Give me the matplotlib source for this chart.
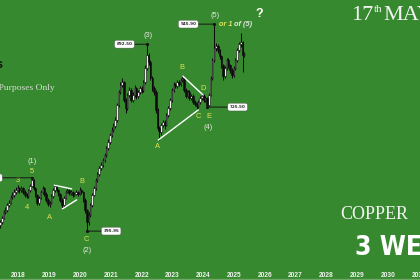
import numpy as np
import pandas as pd
import matplotlib
matplotlib.use("Agg")
import matplotlib.pyplot as plt
from matplotlib.lines import Line2D
from matplotlib import font_manager

# ---------------- data (MCX copper, 3-week candles) ----------------
first_open = 412
closes = [420, 431, 447, 452, 465, 471, 487, 492, 500, 505,
          510, 505, 510, 500, 492, 489, 505, 516, 532, 510,
          492, 471, 484, 500, 510, 495, 479, 468, 471, 489,
          505, 516, 505, 495, 479, 465, 484, 500, 505, 497,
          500, 492, 495, 500, 495, 505, 500, 479, 452, 420,
          439, 465, 492, 510, 532, 548, 564, 572, 585, 598,
          617, 633, 651, 665, 675, 691, 731, 766, 784, 792,
          744, 723, 758, 771, 744, 758, 776, 755, 766, 776,
          771, 792, 829, 864, 845, 803, 776, 766, 718, 670,
          659, 678, 686, 678, 704, 723, 744, 771, 784, 781,
          792, 787, 797, 803, 771, 755, 766, 750, 755, 739,
          734, 728, 739, 750, 755, 744, 750, 731, 758, 803,
          851, 882, 888, 877, 861, 837, 808, 829, 851, 837,
          824, 811, 829, 851, 877, 893, 898, 864, 866]
highs = [426, 436, 452, 460, 470, 478, 493, 499, 507, 512,
         518, 514, 516, 513, 504, 497, 509, 522, 537.6, 534,
         513, 495, 489, 505, 517, 513, 499, 484, 477, 494,
         510, 522, 519, 509, 498, 483, 489, 505, 511, 509,
         506, 503, 500, 505, 503, 513, 509, 503, 483, 456,
         446, 470, 497, 515, 537, 554, 570, 579, 591, 604,
         623, 640, 657, 672, 683, 698, 737, 772, 792, 803,
         796, 750, 764, 779, 775, 765, 783, 780, 772, 782,
         781, 798, 836, 892.5, 870, 850, 808, 782, 770, 722,
         675, 684, 692, 690, 710, 729, 750, 777, 791, 789,
         798, 797, 803, 811, 806, 775, 771, 770, 760, 759,
         744, 738, 744, 755, 761, 759, 756, 753, 763, 808,
         857, 945.9, 895, 892, 880, 864, 841, 834, 857, 855,
         841, 828, 834, 856, 882, 899, 922, 902, 871]
lows = [405, 416, 428, 441, 448, 460, 468, 481, 487, 494,
        500, 498, 499, 494, 486, 483, 485, 501, 512, 505,
        486, 464, 466, 480, 495, 490, 474, 462, 459, 467,
        485, 500, 499, 490, 474, 456, 461, 480, 496, 492,
        493, 487, 488, 491, 490, 492, 494, 472, 444, 395.95,
        412, 434, 461, 488, 505, 527, 542, 557, 566, 580,
        593, 611, 628, 645, 659, 670, 686, 726, 760, 778,
        738, 710, 719, 752, 738, 739, 752, 748, 750, 760,
        764, 766, 787, 824, 838, 797, 769, 758, 711, 662,
        638, 652, 672, 667, 674, 699, 718, 740, 766, 775,
        776, 781, 782, 792, 765, 749, 750, 744, 745, 734,
        728, 721, 724, 735, 745, 739, 740, 725.5, 728, 754,
        798, 846, 874, 870, 854, 830, 798, 803, 824, 830,
        815, 803, 806, 825, 846, 872, 886, 819, 859]

year_ticks = list(range(2018, 2032))
year_labels = [str(y) for y in year_ticks]

# Elliott wave labels: text, candle index, anchor ('h'/'l'), dx px, dy px, kind
wave_labels = [("3", 10, "h", 0.3, 4.5, "y"), ("5", 18, "h", 0, 5.8, "y"),
               ("(1)", 18, "h", 0, 16.5, "w"), ("4", 15, "l", 0, -8.7, "y"),
               ("A", 28, "l", -0.5, -9.8, "y"), ("B", 45, "h", 2, 5.2, "y"),
               ("C", 49, "l", 0, -8.5, "y"), ("(2)", 49, "l", 0, -19.3, "w"),
               ("(3)", 83, "h", 1.4, 8.6, "w"), ("A", 90, "l", -2, -6.7, "y"),
               ("B", 103, "h", -0.5, 7, "y"), ("C", 111, "l", 1.3, -8.2, "y"),
               ("D", 114, "h", 1.3, 5.7, "y"), ("E", 117, "l", 1.3, -9, "y"),
               ("(4)", 117, "l", 1.3, -20, "w"), ("(5)", 121, "h", 0.9, 8.4, "w")]

# price boxes: candle index, anchor, side, distance px
price_boxes = [(18, "h", "left", 30), (83, "h", "left", 13),
               (121, "h", "left", 16.5), (117, "l", "right", 21),
               (49, "l", "right", 15)]

# trend lines: (candle index, price) pairs
trend_lines = [((30.7, 518), (40.5, 508)), ((35.2, 455), (43.3, 479)),
               ((89.4, 638), (112.0, 718)), ((103.2, 808), (114.6, 758))]

# ---------------- font for the condensed title ----------------
narrow_family = None
narrow_stretch = "normal"
for f in font_manager.fontManager.ttflist:
    nm = f.name.lower()
    if "narrow" in nm or "condensed" in nm:
        narrow_family = f.name
        break
    if f.stretch in ("condensed", "semi-condensed", "extra-condensed") and narrow_family is None:
        narrow_family = f.name
        narrow_stretch = f.stretch
        break
if narrow_family is None:
    narrow_family = "DejaVu Sans"

# ---------------- figure ----------------
BG = "#37892f"
YEL = "#dfe25a"
WHT = "#e4e8e2"

fig = plt.figure(figsize=(4.2, 2.8), dpi=100, facecolor=BG)
ax = fig.add_axes([0, 11 / 280, 1, 269 / 280], facecolor=BG)

n = len(closes)
dates = pd.date_range("2017-05-27", periods=n, freq="21D")
xs = np.asarray(dates.year + (dates.dayofyear - 1) / 365.25, dtype=float)
closes = np.array(closes, float)
opens = np.concatenate([[first_open], closes[:-1]])
highs = np.array(highs, float)
lows = np.array(lows, float)

up = closes >= opens
ax.vlines(xs, lows, highs, color="#0c0c0c", lw=0.75, zorder=2)
ax.bar(xs[up], (closes - opens)[up], bottom=opens[up], width=0.048,
       color="#ededed", edgecolor="#0c0c0c", linewidth=0.4, zorder=3)
ax.bar(xs[~up], (closes - opens)[~up], bottom=opens[~up], width=0.048,
       color="#0c0c0c", edgecolor="#0c0c0c", linewidth=0.4, zorder=3)

idx = np.arange(n)
for (i0, p0), (i1, p1) in trend_lines:
    ax.plot(np.interp([i0, i1], idx, xs), [p0, p1], color="white", lw=1.0,
            solid_capstyle="round", zorder=4)

PT = 0.72
for txt, i, a, dx, dy, kind in wave_labels:
    p = highs[i] if a == "h" else lows[i]
    ax.annotate(txt, (xs[i], p), xytext=(dx * PT, dy * PT), textcoords="offset points",
                ha="center", va="center", fontsize=5.4, family="Liberation Sans",
                color=YEL if kind == "y" else WHT, zorder=6)

for i, a, side, dist in price_boxes:
    p = highs[i] if a == "h" else lows[i]
    sgn = -1 if side == "left" else 1
    ax.annotate(f"{p:.2f}", (xs[i], p), xytext=(sgn * (dist + 1.5) * PT, 0),
                textcoords="offset points", ha="right" if side == "left" else "left",
                va="center", fontsize=3.0, fontweight="bold", color="#2a2a2a",
                family="DejaVu Sans",
                bbox=dict(boxstyle="round,pad=0.45", fc="white", ec="#555555", lw=0.3),
                arrowprops=dict(arrowstyle="-", color="#151515", lw=0.7,
                                shrinkA=0, shrinkB=0), zorder=7)
    ax.plot([xs[i]], [p], "o", ms=1.3, color="#151515", zorder=7)

# "or 1 of (5)" and "?"
ax.annotate("or 1", (xs[121], highs[121]), xytext=(5.2 * PT, 0), textcoords="offset points",
            ha="left", va="center", fontsize=5.3, fontweight="bold", fontstyle="italic",
            family="Liberation Sans", color=YEL, zorder=6)
ax.annotate("of (5)", (xs[121], highs[121]), xytext=(19.3 * PT, 0), textcoords="offset points",
            ha="left", va="center", fontsize=5.3, fontweight="bold", fontstyle="italic",
            family="Liberation Sans", color=WHT, zorder=6)
ax.annotate("?", (xs[121], highs[121]), xytext=(45 * PT, 10 * PT), textcoords="offset points",
            ha="center", va="center", fontsize=9, fontweight="bold",
            family="Liberation Sans", color="white", zorder=6)

ax.set_xlim(2017.40, 2031.04)
ax.set_ylim(1010 - 2.657 * 269, 1010)
ax.set_xticks(year_ticks)
ax.set_xticklabels(year_labels)
ax.tick_params(axis="x", length=0, pad=2.2, labelsize=4.8, labelcolor="#eef2ec")
for lab in ax.get_xticklabels():
    lab.set_fontweight("bold")
    lab.set_family("Liberation Sans")
ax.set_yticks([])
for s in ax.spines.values():
    s.set_visible(False)

# ---------------- overlay texts ----------------
def fx(px):
    return px / 420

def fy(py):
    return 1 - py / 280

fig.text(fx(351.5), fy(20), "17", fontsize=16, family="Liberation Serif",
         color="#f3f3f3", va="baseline", ha="left")
fig.text(fx(373.5), fy(12.3), "th", fontsize=8, family="Liberation Serif",
         color="#f3f3f3", va="baseline", ha="left")
fig.text(fx(383), fy(20), "MAY", fontsize=16, family="Liberation Serif",
         color="#f3f3f3", va="baseline", ha="left")
fig.text(fx(340.5), fy(219.3), "COPPER", fontsize=13, family="Liberation Serif",
         color="#f3f3f3", va="baseline", ha="left")
fig.text(fx(355), fy(255), "3 WEEK", fontsize=25 if narrow_family != "DejaVu Sans" else 19,
         fontweight="bold", family=[narrow_family, "DejaVu Sans"], fontstretch="condensed",
         color="white", va="baseline", ha="left")
fig.text(fx(3.4), fy(68.3), "Elliott Wave Analysis", fontsize=9, fontweight="bold",
         family="Liberation Sans", color="#101010", va="baseline", ha="right")
fig.text(fx(55), fy(89.5), "For Educational Purposes Only", fontsize=6.8,
         family="Liberation Serif", color="#d3dbd1", va="baseline", ha="right")

fig.add_artist(Line2D([0, 1], [fy(278.8), fy(278.8)], color="#6fa866", lw=1.0))

fig.savefig("out.png", dpi=100, facecolor=BG)
